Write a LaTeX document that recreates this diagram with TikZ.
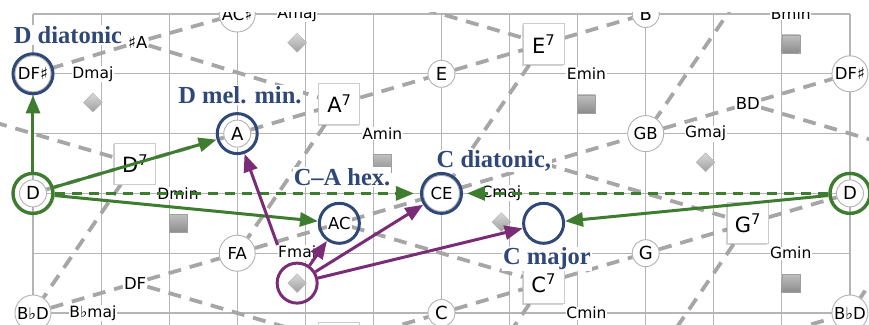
\documentclass[tikz,border=0pt]{standalone}
\usepackage{fontspec}
\newfontfamily\notefont{DejaVu Sans}
\newfontfamily\setfont{Liberation Serif}
\usetikzlibrary{positioning,shapes.geometric,arrows.meta,shadows,backgrounds}

\definecolor{setblue}{RGB}{47,72,120}
\definecolor{pathgreen}{RGB}{62,124,48}
\definecolor{pathpurple}{RGB}{122,44,118}

\begin{document}
\begin{tikzpicture}[
  x=68.08pt, y=-59.8pt,
  gridline/.style={draw=gray!58, line width=1.1pt},
  lattice/.style={draw=gray!70, line width=3.8pt, dash pattern=on 13pt off 9pt},
  dyad/.style={circle, draw=gray!60, fill=white, line width=0.9pt, minimum size=36pt, inner sep=0pt, font=\notefont\fontsize{16.5}{16.5}\selectfont},
  note/.style={dyad, minimum size=27pt, font=\notefont\fontsize{18}{18}\selectfont},
  pair/.style={fill=white, inner sep=1pt, font=\notefont\fontsize{16.5}{16.5}\selectfont},
  seventh/.style={rectangle, draw=gray!40, fill=white, line width=0.8pt, minimum size=41pt, inner sep=0pt, font=\notefont\fontsize{21}{21}\selectfont, drop shadow={shadow xshift=-1.3pt, shadow yshift=-1.3pt, opacity=0.35}},
  chord/.style={fill=white, inner sep=0.5pt, font=\notefont\fontsize{15.5}{15.5}\selectfont},
  major/.style={diamond, minimum size=19pt, inner sep=0pt, draw=gray!60, top color=gray!30, bottom color=gray!75},
  minor/.style={rectangle, minimum size=18pt, inner sep=0pt, draw=gray!75, top color=gray!50, bottom color=gray!90},
  setname/.style={text=setblue, fill=white, inner sep=1pt, font=\setfont\bfseries\fontsize{24.5}{24.5}\selectfont},
  bluering/.style={circle, draw=setblue, line width=3pt, minimum size=40pt, inner sep=0pt},
  greenring/.style={bluering, draw=pathgreen, line width=3.4pt},
  purplering/.style={bluering, draw=pathpurple},
  greenarrow/.style={draw=pathgreen, line width=3pt, -{Triangle[length=18pt,width=14pt]}},
  purplearrow/.style={greenarrow, draw=pathpurple}
]
  \useasboundingbox (-0.4847,-0.2341) rectangle (12.2797,5.1839);
  \begin{scope}
  \clip (-0.4847,-0.025) rectangle (12.2797,5.1839);

  % dyads on the grid
  \node[dyad] (acs) at (3,0) {AC♯};
  \node[note] (b) at (9,0) {B};
  \node[dyad] (dfsl) at (0,1) {DF♯};
  \node[note] (e) at (6,1) {E};
  \node[dyad] (dfsr) at (12,1) {DF♯};
  \node[note] (a) at (3,2) {A};
  \node[dyad] (gb) at (9,2) {GB};
  \node[note] (dl) at (0,3) {D};
  \node[dyad] (ce) at (6,3) {CE};
  \node[note] (dr) at (12,3) {D};
  \node[dyad] (fa) at (3,4) {FA};
  \node[note] (g) at (9,4) {G};
  \node[dyad] (bbdl) at (0,5) {B♭D};
  \node[note] (c) at (6,5) {C};
  \node[dyad] (bbdr) at (12,5) {B♭D};

  % dyads between grid points
  \node[pair] (fsa) at (1.54,0.47) {♯A};
  \node[pair] (bd) at (10.5,1.5) {BD};
  \node[pair] (ac) at (4.5,3.5) {AC};
  \node[pair] (df) at (1.5,4.5) {DF};
  \coordinate (eg) at (7.5,2.5);
  \coordinate (cs) at (4.5,-0.5);
  \coordinate (bdl) at (-1.5,1.5);
  \coordinate (bbdw) at (10.5,5.5);

  % seventh chords
  \node[seventh] (d7) at (1.5,2.5) {D\textsuperscript{7}};
  \node[seventh] (a7) at (4.5,1.5) {A\textsuperscript{7}};
  \node[seventh] (e7) at (7.5,0.5) {E\textsuperscript{7}};
  \node[seventh] (c7) at (7.5,4.5) {C\textsuperscript{7}};
  \node[seventh] (g7) at (10.5,3.5) {G\textsuperscript{7}};
  \node[seventh] (f7) at (4.5,5.5) {};
  \coordinate (b7) at (10.5,-0.5);
  \coordinate (d7r) at (13.5,2.5);
  \coordinate (f7w) at (3,6);
  \coordinate (c7s) at (6,7);
  \coordinate (g7s) at (9,6);

  % major and minor triads
  \node[major] (dmajd) at (0.88,1.48) {};
  \node[major] (amajd) at (3.88,0.48) {};
  \node[major] (gmajd) at (9.88,2.48) {};
  \node[major] (cmajd) at (6.88,3.48) {};
  \node[major] (fmajd) at (3.88,4.5) {};
  \node[minor] (dmins) at (2.13,3.5) {};
  \node[minor] (amins) at (5.13,2.5) {};
  \node[minor] (emins) at (8.13,1.5) {};
  \node[minor] (bmins) at (11.13,0.5) {};
  \node[minor] (gmins) at (11.13,4.5) {};

  \node[chord] (dmaj) at (0.88,1) {Dmaj};
  \node[chord] (amaj) at (3.88,0) {Amaj};
  \node[chord] (bmin) at (11.13,0) {Bmin};
  \node[chord] (emin) at (8.13,1) {Emin};
  \node[chord] (amin) at (5.13,2) {Amin};
  \node[chord] (gmaj) at (9.88,2) {Gmaj};
  \node[chord] (dmin) at (2.13,3) {Dmin};
  \node[chord] (cmaj) at (6.88,3) {Cmaj};
  \node[chord] (fmaj) at (3.88,4) {Fmaj};
  \node[chord] (gmin) at (11.13,4) {Gmin};
  \node[chord] (bbmaj) at (0.88,5) {B♭maj};
  \node[chord] (cmin) at (8.13,5) {Cmin};

  \begin{scope}[on background layer]
    \clip (-0.4847,-0.025) rectangle (12.2797,5.1839);
    \foreach \col in {0,...,12}
      \draw[gridline] (\col,0) -- (\col,5.5);
    \foreach \row in {0,...,5}
      \draw[gridline] (0,\row) -- (12,\row);

    \draw[lattice] (dfsl) -- (fsa) -- (acs) -- (cs);
    \draw[lattice] (dl) -- (d7) -- (a) -- (a7) -- (e) -- (e7) -- (b) -- (b7);
    \draw[lattice] (bbdl) -- (df) -- (fa) -- (ac) -- (ce) -- (eg) -- (gb) -- (bd) -- (dfsr);
    \draw[lattice] (f7w) -- (f7) -- (c) -- (c7) -- (g) -- (g7) -- (dr);
    \draw[lattice] (bbdw) -- (bbdr);

    \draw[lattice] (bdl) -- (d7);
    \draw[lattice] (fsa) -- (a7);
    \draw[lattice] (cs) -- (e7);
    \draw[lattice] (ac) -- (c7);
    \draw[lattice] (df) -- (f7);
    \draw[lattice] (eg) -- (g7);
    \draw[lattice] (bd) -- (d7r);

    \draw[lattice] (d7) -- (bbdl);
    \draw[lattice] (a7) -- (fa);
    \draw[lattice] (e7) -- (ce);
    \draw[lattice] (c7) -- (c7s);
    \draw[lattice] (g7) -- (g7s);
    \draw[lattice] (b7) -- (gb);
    \draw[lattice] (d7r) -- (bbdr);
  \end{scope}

  % scale names
  \node[setname] (ddia) at (0.514,0.351) {D diatonic};
  \node[setname] (dmel) at (3.04,1.355) {D mel. min.};
  \node[setname] (cahex) at (4.54,2.726) {C–A hex.};
  \node[setname] (cdia) at (6.77,2.458) {C diatonic,};
  \node[setname] (cmajor) at (7.55,4.097) {C major};

  % highlighted collections
  \node[bluering] (ringdfs) at (dfsl) {};
  \node[bluering] (ringa) at (a) {};
  \node[bluering] (ringce) at (ce) {};
  \node[bluering] (ringac) at (ac) {};
  \node[bluering] (ringcmaj) at (7.5,3.5) {};
  \node[greenring] (ringdl) at (dl) {};
  \node[greenring] (ringdr) at (dr) {};
  \node[purplering] (ringf) at (fmajd) {};

  \draw[greenarrow] (ringdl) -- (ringdfs);
  \draw[greenarrow] (ringdl) -- (ringa);
  \draw[greenarrow] (ringdl) -- (ringac);
  \draw[greenarrow, dash pattern=on 10pt off 7pt, shorten >=6pt] (ringdl) -- (ringce);
  \draw[greenarrow, dash pattern=on 10pt off 7pt, shorten >=4pt] (ringdr) -- (ringce);
  \draw[greenarrow] (ringdr) -- (ringcmaj);
  \draw[purplearrow] (fmaj.north west) -- (ringa);
  \draw[purplearrow] (ringf) -- (ringac);
  \draw[purplearrow] (ringf) -- (ringce);
  \draw[purplearrow] (ringf) -- (ringcmaj);
  \end{scope}
\end{tikzpicture}
\end{document}
